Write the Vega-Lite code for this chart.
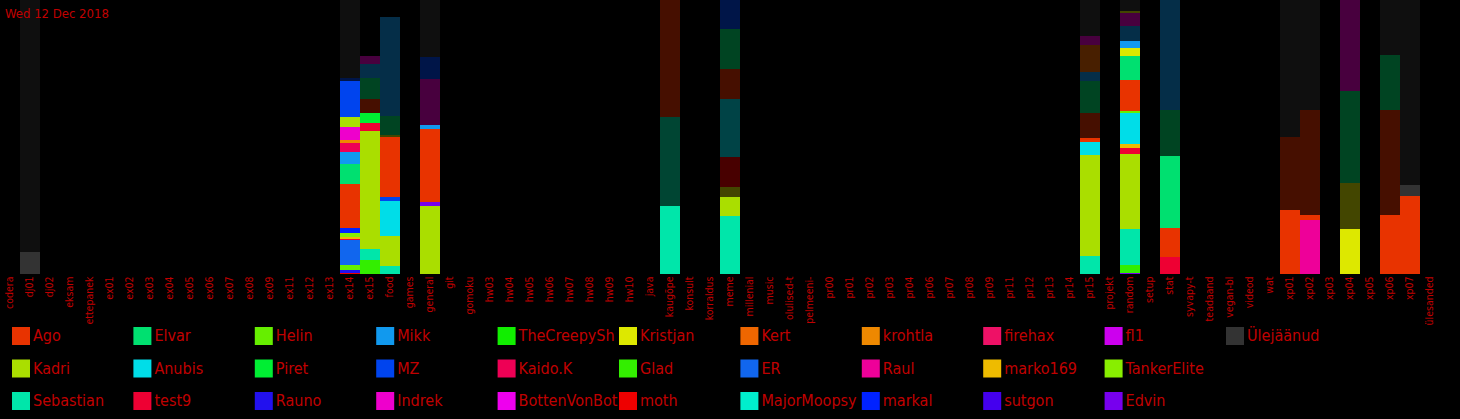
{
  "$schema": "https://vega.github.io/schema/vega-lite/v6.json",
  "background": "black",
  "padding": {"left": 0, "top": 0, "right": 20, "bottom": 0},
  "width": 1440,
  "height": 274,
  "title": {"text": "Wed 12 Dec 2018", "anchor": "start", "orient": "top", "frame": "group", "offset": -21, "font": "DejaVu Sans Condensed, Roboto Condensed, Liberation Sans Narrow, Roboto, sans-serif", "fontSize": 13, "fontWeight": "normal", "color": "#c00000", "dx": 5},
  "config": {"view": {"stroke": null}},
  "data": {"values": [
    {"c": "dj01", "u": "Ülejäänud", "d": 0, "n": 22, "k": 1},
    {"c": "dj01", "u": "Ülejäänud", "d": 1, "n": 252, "k": 2},

    {"c": "ex14", "u": "moth", "d": 0, "n": 1, "k": 1},
    {"c": "ex14", "u": "Rauno", "d": 0, "n": 3, "k": 2},
    {"c": "ex14", "u": "Helin", "d": 0, "n": 5, "k": 3},
    {"c": "ex14", "u": "ER", "d": 0, "n": 25, "k": 4},
    {"c": "ex14", "u": "test9", "d": 0, "n": 1, "k": 5},
    {"c": "ex14", "u": "marko169", "d": 0, "n": 2, "k": 6},
    {"c": "ex14", "u": "TankerElite", "d": 0, "n": 4, "k": 7},
    {"c": "ex14", "u": "markal", "d": 0, "n": 5, "k": 8},
    {"c": "ex14", "u": "Ago", "d": 0, "n": 44, "k": 9},
    {"c": "ex14", "u": "Elvar", "d": 0, "n": 20, "k": 10},
    {"c": "ex14", "u": "Mikk", "d": 0, "n": 12, "k": 11},
    {"c": "ex14", "u": "Kaido.K", "d": 0, "n": 9, "k": 12},
    {"c": "ex14", "u": "krohtla", "d": 0, "n": 3, "k": 13},
    {"c": "ex14", "u": "Indrek", "d": 0, "n": 13, "k": 14},
    {"c": "ex14", "u": "Kadri", "d": 0, "n": 10, "k": 15},
    {"c": "ex14", "u": "MZ", "d": 0, "n": 36, "k": 16},
    {"c": "ex14", "u": "MZ", "d": 1, "n": 3, "k": 17},
    {"c": "ex14", "u": "Ülejäänud", "d": 1, "n": 78, "k": 18},

    {"c": "ex15", "u": "Glad", "d": 0, "n": 14, "k": 1},
    {"c": "ex15", "u": "Sebastian", "d": 0, "n": 11, "k": 2},
    {"c": "ex15", "u": "Kadri", "d": 0, "n": 118, "k": 3},
    {"c": "ex15", "u": "test9", "d": 0, "n": 8, "k": 4},
    {"c": "ex15", "u": "Piret", "d": 0, "n": 10, "k": 5},
    {"c": "ex15", "u": "Ago", "d": 1, "n": 14, "k": 6},
    {"c": "ex15", "u": "Elvar", "d": 1, "n": 21, "k": 7},
    {"c": "ex15", "u": "Mikk", "d": 1, "n": 14, "k": 8},
    {"c": "ex15", "u": "Indrek", "d": 1, "n": 8, "k": 9},

    {"c": "food", "u": "Sebastian", "d": 0, "n": 8, "k": 1},
    {"c": "food", "u": "Kadri", "d": 0, "n": 30, "k": 2},
    {"c": "food", "u": "Anubis", "d": 0, "n": 35, "k": 3},
    {"c": "food", "u": "MZ", "d": 0, "n": 4, "k": 4},
    {"c": "food", "u": "Ago", "d": 0, "n": 60, "k": 5},
    {"c": "food", "u": "Kristjan", "d": 1, "n": 2, "k": 6},
    {"c": "food", "u": "Elvar", "d": 1, "n": 19, "k": 7},
    {"c": "food", "u": "Mikk", "d": 1, "n": 99, "k": 8},

    {"c": "general", "u": "Kadri", "d": 0, "n": 68, "k": 1},
    {"c": "general", "u": "Edvin", "d": 0, "n": 4, "k": 2},
    {"c": "general", "u": "Ago", "d": 0, "n": 73, "k": 3},
    {"c": "general", "u": "Mikk", "d": 0, "n": 4, "k": 4},
    {"c": "general", "u": "Indrek", "d": 1, "n": 46, "k": 5},
    {"c": "general", "u": "MZ", "d": 1, "n": 22, "k": 6},
    {"c": "general", "u": "Ülejäänud", "d": 1, "n": 57, "k": 7},

    {"c": "kaugõpe", "u": "Sebastian", "d": 0, "n": 68, "k": 1},
    {"c": "kaugõpe", "u": "Sebastian", "d": 1, "n": 89, "k": 2},
    {"c": "kaugõpe", "u": "Ago", "d": 1, "n": 117, "k": 3},

    {"c": "meme", "u": "Sebastian", "d": 0, "n": 58, "k": 1},
    {"c": "meme", "u": "Kadri", "d": 0, "n": 19, "k": 2},
    {"c": "meme", "u": "Kristjan", "d": 1, "n": 10, "k": 3},
    {"c": "meme", "u": "moth", "d": 1, "n": 30, "k": 4},
    {"c": "meme", "u": "Anubis", "d": 1, "n": 58, "k": 5},
    {"c": "meme", "u": "Ago", "d": 1, "n": 30, "k": 6},
    {"c": "meme", "u": "Elvar", "d": 1, "n": 40, "k": 7},
    {"c": "meme", "u": "MZ", "d": 1, "n": 29, "k": 8},

    {"c": "pr15", "u": "Sebastian", "d": 0, "n": 18, "k": 1},
    {"c": "pr15", "u": "Kadri", "d": 0, "n": 101, "k": 2},
    {"c": "pr15", "u": "Anubis", "d": 0, "n": 13, "k": 3},
    {"c": "pr15", "u": "Ago", "d": 0, "n": 4, "k": 4},
    {"c": "pr15", "u": "Ago", "d": 1, "n": 25, "k": 5},
    {"c": "pr15", "u": "Elvar", "d": 1, "n": 32, "k": 6},
    {"c": "pr15", "u": "Mikk", "d": 1, "n": 9, "k": 7},
    {"c": "pr15", "u": "Kert", "d": 1, "n": 27, "k": 8},
    {"c": "pr15", "u": "Indrek", "d": 1, "n": 9, "k": 9},
    {"c": "pr15", "u": "Ülejäänud", "d": 1, "n": 36, "k": 10},

    {"c": "random", "u": "Edvin", "d": 0, "n": 1, "k": 1},
    {"c": "random", "u": "Glad", "d": 0, "n": 8, "k": 2},
    {"c": "random", "u": "Sebastian", "d": 0, "n": 36, "k": 3},
    {"c": "random", "u": "Kadri", "d": 0, "n": 75, "k": 4},
    {"c": "random", "u": "test9", "d": 0, "n": 6, "k": 5},
    {"c": "random", "u": "marko169", "d": 0, "n": 4, "k": 6},
    {"c": "random", "u": "Anubis", "d": 0, "n": 31, "k": 7},
    {"c": "random", "u": "Helin", "d": 0, "n": 2, "k": 8},
    {"c": "random", "u": "Ago", "d": 0, "n": 31, "k": 9},
    {"c": "random", "u": "Elvar", "d": 0, "n": 24, "k": 10},
    {"c": "random", "u": "Kristjan", "d": 0, "n": 8, "k": 11},
    {"c": "random", "u": "Mikk", "d": 0, "n": 7, "k": 12},
    {"c": "random", "u": "Mikk", "d": 1, "n": 15, "k": 13},
    {"c": "random", "u": "Indrek", "d": 1, "n": 13, "k": 14},
    {"c": "random", "u": "Kristjan", "d": 1, "n": 2, "k": 15},
    {"c": "random", "u": "Ülejäänud", "d": 1, "n": 11, "k": 16},

    {"c": "stat", "u": "test9", "d": 0, "n": 17, "k": 1},
    {"c": "stat", "u": "Ago", "d": 0, "n": 29, "k": 2},
    {"c": "stat", "u": "Elvar", "d": 0, "n": 72, "k": 3},
    {"c": "stat", "u": "Elvar", "d": 1, "n": 46, "k": 4},
    {"c": "stat", "u": "Mikk", "d": 1, "n": 110, "k": 5},

    {"c": "xp01", "u": "Ago", "d": 0, "n": 64, "k": 1},
    {"c": "xp01", "u": "Ago", "d": 1, "n": 73, "k": 2},
    {"c": "xp01", "u": "Ülejäänud", "d": 1, "n": 137, "k": 3},

    {"c": "xp02", "u": "Raul", "d": 0, "n": 54, "k": 1},
    {"c": "xp02", "u": "Ago", "d": 0, "n": 5, "k": 2},
    {"c": "xp02", "u": "Ago", "d": 1, "n": 105, "k": 3},
    {"c": "xp02", "u": "Ülejäänud", "d": 1, "n": 110, "k": 4},

    {"c": "xp04", "u": "Kristjan", "d": 0, "n": 45, "k": 1},
    {"c": "xp04", "u": "Kristjan", "d": 1, "n": 46, "k": 2},
    {"c": "xp04", "u": "Elvar", "d": 1, "n": 92, "k": 3},
    {"c": "xp04", "u": "Indrek", "d": 1, "n": 91, "k": 4},

    {"c": "xp06", "u": "Ago", "d": 0, "n": 59, "k": 1},
    {"c": "xp06", "u": "Ago", "d": 1, "n": 105, "k": 2},
    {"c": "xp06", "u": "Elvar", "d": 1, "n": 55, "k": 3},
    {"c": "xp06", "u": "Ülejäänud", "d": 1, "n": 55, "k": 4},

    {"c": "xp07", "u": "Ago", "d": 0, "n": 78, "k": 1},
    {"c": "xp07", "u": "Ülejäänud", "d": 0, "n": 11, "k": 2},
    {"c": "xp07", "u": "Ülejäänud", "d": 1, "n": 185, "k": 3}
  ]},
  "mark": {"type": "bar", "strokeWidth": 0},
  "encoding": {
    "x": {
      "field": "c", "type": "nominal", "sort": null,
      "scale": {
        "domain": ["codera", "dj01", "dj02", "eksam", "ettepanek", "ex01", "ex02", "ex03", "ex04", "ex05", "ex06", "ex07", "ex08", "ex09", "ex11", "ex12", "ex13", "ex14", "ex15", "food", "games", "general", "git", "gomoku", "hw03", "hw04", "hw05", "hw06", "hw07", "hw08", "hw09", "hw10", "java", "kaugõpe", "konsult", "korraldus", "meme", "millenial", "music", "olulised-t", "pelmeeni-", "pr00", "pr01", "pr02", "pr03", "pr04", "pr06", "pr07", "pr08", "pr09", "pr11", "pr12", "pr13", "pr14", "pr15", "projekt", "random", "setup", "stat", "syvapy-t", "teadaand", "vegan-bl", "videod", "wat", "xp01", "xp02", "xp03", "xp04", "xp05", "xp06", "xp07", "ülesanded"],
        "paddingInner": 0, "paddingOuter": 0
      },
      "axis": {"title": null, "labelAngle": 270, "domain": false, "ticks": false, "labelPadding": 2, "labelColor": "#c00000", "labelFont": "DejaVu Sans Condensed, Roboto Condensed, Liberation Sans Narrow, Roboto, sans-serif", "labelFontSize": 10.5, "labelLimit": 200}
    },
    "y": {
      "field": "n", "type": "quantitative", "stack": "zero",
      "scale": {"domain": [0, 274], "nice": false, "zero": true},
      "axis": null
    },
    "order": {"field": "k", "type": "quantitative", "sort": "ascending"},
    "opacity": {"field": "d", "type": "nominal", "scale": {"domain": [0, 1], "range": [1, 0.3]}, "legend": null},
    "color": {
      "field": "u", "type": "nominal",
      "scale": {
        "domain": ["Ago", "Kadri", "Sebastian", "Elvar", "Anubis", "test9", "Helin", "Piret", "Rauno", "Mikk", "MZ", "Indrek", "TheCreepySh", "Kaido.K", "BottenVonBot", "Kristjan", "Glad", "moth", "Kert", "ER", "MajorMoopsy", "krohtla", "Raul", "markal", "firehax", "marko169", "sutgon", "fl1", "TankerElite", "Edvin", "Ülejäänud", " "],
        "range": ["#e83300", "#aade00", "#00e6aa", "#00e070", "#00dde8", "#ee0033", "#66ee00", "#00ee33", "#2211ee", "#1199ee", "#0044ee", "#ee00cc", "#11ee00", "#ee0055", "#ee00ee", "#dde800", "#33ee00", "#ee0000", "#ee6600", "#1166ee", "#00eecc", "#ee8800", "#ee0099", "#0022ff", "#ee1166", "#eebb00", "#4400ee", "#cc00ee", "#88ee00", "#7700ee", "#333333", "#000000"]
      },
      "legend": {
        "orient": "bottom", "direction": "horizontal", "columns": 11, "title": null,
        "values": ["Ago", "Elvar", "Helin", "Mikk", "TheCreepySh", "Kristjan", "Kert", "krohtla", "firehax", "fl1", "Ülejäänud", "Kadri", "Anubis", "Piret", "MZ", "Kaido.K", "Glad", "ER", "Raul", "marko169", "TankerElite", " ", "Sebastian", "test9", "Rauno", "Indrek", "BottenVonBot", "moth", "MajorMoopsy", "markal", "sutgon", "Edvin"],
        "symbolLimit": 0,
        "symbolType": "square", "symbolSize": 324, "symbolStrokeWidth": 0, "symbolOpacity": 1,
        "labelFont": "DejaVu Sans Condensed, Roboto Condensed, Liberation Sans Narrow, Roboto, sans-serif", "labelFontSize": 16, "labelColor": "#c00000", "labelLimit": 300, "labelOffset": 3,
        "gridAlign": "all", "columnPadding": 1.4, "rowPadding": 14.5, "offset": -10, "padding": 12
      }
    }
  }
}
